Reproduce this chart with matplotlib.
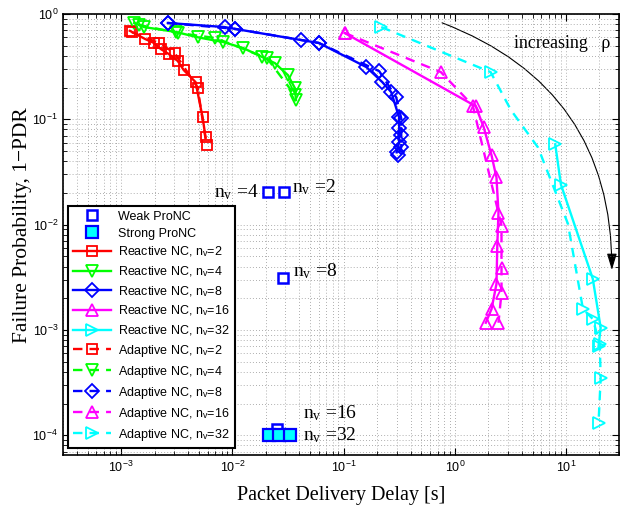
import numpy as np
import matplotlib
matplotlib.use("Agg")
import matplotlib.pyplot as plt
from matplotlib.patches import FancyArrowPatch

plt.rcParams['font.family'] = ['Liberation Sans', 'DejaVu Sans']
plt.rcParams['mathtext.fontset'] = 'custom'
plt.rcParams['mathtext.rm'] = 'Liberation Serif'
plt.rcParams['mathtext.it'] = 'Liberation Serif:italic'

# reactive NC curves (solid)
r2_x = [1.2e-3, 1.64e-3, 1.97e-3, 2.27e-3, 2.68e-3, 3.23e-3, 3.65e-3, 4.67e-3, 5.4e-3, 5.74e-3]
r2_y = [0.69, 0.578, 0.53, 0.464, 0.416, 0.357, 0.293, 0.225, 0.104, 0.0674]
r4_x = [1.31e-3, 1.60e-3, 3.1e-3, 4.87e-3, 8.3e-3, 0.0125, 0.0185, 0.0242, 0.0316, 0.0365, 0.0373]
r4_y = [0.82, 0.75, 0.674, 0.60, 0.54, 0.474, 0.39, 0.34, 0.262, 0.197, 0.152]
r8_x = [2.63e-3, 8.5e-3, 0.0106, 0.0413, 0.0598, 0.160, 0.223, 0.268, 0.316, 0.316, 0.316, 0.30]
r8_y = [0.82, 0.75, 0.72, 0.565, 0.53, 0.313, 0.225, 0.181, 0.104, 0.082, 0.0604, 0.0485]
r16_x = [0.102, 1.54, 1.82, 2.14, 2.37, 2.47, 2.41, 2.37, 2.14, 1.9]
r16_y = [0.66, 0.133, 0.084, 0.0454, 0.028, 0.013, 0.0063, 0.00274, 0.00158, 0.00117]
r32_x = [8.0, 9.0, 17.4, 20.5, 19.6]
r32_y = [0.0578, 0.024, 0.00306, 0.00105, 0.00070]

# adaptive NC curves (dashed)
a2_x = [1.25e-3, 2.18e-3, 3.03e-3, 4.87e-3, 5.86e-3]
a2_y = [0.67, 0.53, 0.425, 0.20, 0.0565]
a4_x = [1.45e-3, 3.23e-3, 7.05e-3, 0.0205, 0.0365]
a4_y = [0.785, 0.66, 0.59, 0.38, 0.169]
a8_x = [2.63e-3, 0.0106, 0.0598, 0.209, 0.297, 0.33, 0.33, 0.33, 0.31]
a8_y = [0.82, 0.72, 0.53, 0.286, 0.162, 0.102, 0.0704, 0.054, 0.0454]
a16_x = [0.102, 0.75, 1.45, 2.63, 2.63, 2.63, 2.47]
a16_y = [0.66, 0.28, 0.135, 0.0098, 0.0039, 0.00225, 0.00117]
a32_x = [0.218, 2.1, 3.2, 5.6, 10.4, 14.2, 17.4, 20.1, 20.5, 19.6]
a32_y = [0.75, 0.28, 0.122, 0.054, 0.0102, 0.00158, 0.00127, 0.00074, 0.00035, 0.00013]
a32_marked = [0, 1, 5, 6, 7, 8, 9]

# proactive NC points
weak_x = [0.029, 0.021, 0.0285, 0.0252]
weak_y = [0.0206, 0.0202, 0.00313, 1.14e-4]
strong_x = [0.0215, 0.0265, 0.033]
strong_y = [1.0e-4, 1.0e-4, 1.0e-4]
nv_labels = ['2', '4', '8', '16', '32']

colors = ['#ff0000', '#00ff00', '#0000ff', '#ff00ff', '#00ffff']
markers = ['s', 'v', 'D', '^', '>']
msizes = [6.5, 8, 7, 8.5, 8.5]

fig = plt.figure(figsize=(6.22, 5.07), dpi=100)
ax = fig.add_axes([0.1013, 0.1026, 0.894, 0.870])
ax.set_xscale('log')
ax.set_yscale('log')

reactive = [(r2_x, r2_y), (r4_x, r4_y), (r8_x, r8_y), (r16_x, r16_y), (r32_x, r32_y)]
adaptive = [(a2_x, a2_y), (a4_x, a4_y), (a8_x, a8_y), (a16_x, a16_y), (a32_x, a32_y)]

handles = []
h, = ax.plot(weak_x, weak_y, ls='none', marker='s', ms=7, mfc='white', mec='#0000ff', mew=1.8)
handles.append((h, 'Weak ProNC'))
h, = ax.plot(strong_x, strong_y, ls='none', marker='s', ms=8.5, mfc='#00ffff', mec='#0000ff', mew=1.6)
handles.append((h, 'Strong ProNC'))
for i, (xs, ys) in enumerate(reactive):
    h, = ax.plot(xs, ys, '-', color=colors[i], marker=markers[i], ms=msizes[i], mfc='none', mew=1.3, lw=1.7)
    handles.append((h, 'Reactive NC, n$_\\mathregular{v}$=' + nv_labels[i]))
for i, (xs, ys) in enumerate(adaptive):
    mk = a32_marked if i == 4 else None
    h, = ax.plot(xs, ys, '--', color=colors[i], marker=markers[i], ms=msizes[i], mfc='none', mew=1.3, lw=1.7,
                 dashes=(4, 3), markevery=mk)
    handles.append((h, 'Adaptive NC, n$_\\mathregular{v}$=' + nv_labels[i]))

ax.set_xlim(3e-4, 30)
ax.set_ylim(6.5e-5, 1)

ax.grid(True, which='both', ls=(0, (1, 3)), color='0.5', lw=0.55)
ax.tick_params(which='both', direction='in', top=True, right=True, labelsize=9)
ax.tick_params(which='major', length=5)
ax.tick_params(which='minor', length=3)
for s in ax.spines.values():
    s.set_linewidth(1.2)

serif = ['Liberation Serif', 'DejaVu Serif']
ax.set_xlabel('Packet Delivery Delay [s]', family=serif, fontsize=14.5, labelpad=8)
ax.set_ylabel('Failure Probability, 1\u2212PDR', family=serif, fontsize=15.5)
ax.yaxis.set_label_coords(-0.055, 0.52)

# point annotations
ann = dict(family=serif, fontsize=14, textcoords='offset points', va='center')
ax.annotate('n$_\\mathregular{v}$ =4', (weak_x[1], weak_y[1]), xytext=(-7, 0), ha='right', **ann)
ax.annotate('n$_\\mathregular{v}$ =2', (weak_x[0], weak_y[0]), xytext=(6, 3), ha='left', **ann)
ax.annotate('n$_\\mathregular{v}$ =8', (weak_x[2], weak_y[2]), xytext=(7, 5), ha='left', **ann)
ax.annotate('n$_\\mathregular{v}$ =16', (strong_x[2], strong_y[2]), xytext=(9, 16), ha='left', **ann)
ax.annotate('n$_\\mathregular{v}$ =32', (strong_x[2], strong_y[2]), xytext=(9, 0), ha='left', **ann)

ax.text(0.811, 0.932, 'increasing   \u03c1', transform=ax.transAxes, family=serif, fontsize=13,
        ha='left', va='center')
arr = FancyArrowPatch((0.677, 0.982), (0.987, 0.413), transform=ax.transAxes,
                      connectionstyle='arc3,rad=-0.35', arrowstyle='-|>,head_length=10,head_width=3',
                      color='black', lw=0.8, mutation_scale=1)
ax.add_patch(arr)

leg = ax.legend([h for h, _ in handles], [l for _, l in handles], loc='upper left',
                bbox_to_anchor=(0.009, 0.565), fontsize=9, handlelength=3.0, labelspacing=0.4,
                handletextpad=0.6, fancybox=False, framealpha=1, edgecolor='black', borderaxespad=0)
leg.get_frame().set_linewidth(1.5)

fig.savefig('out.png', dpi=100)
